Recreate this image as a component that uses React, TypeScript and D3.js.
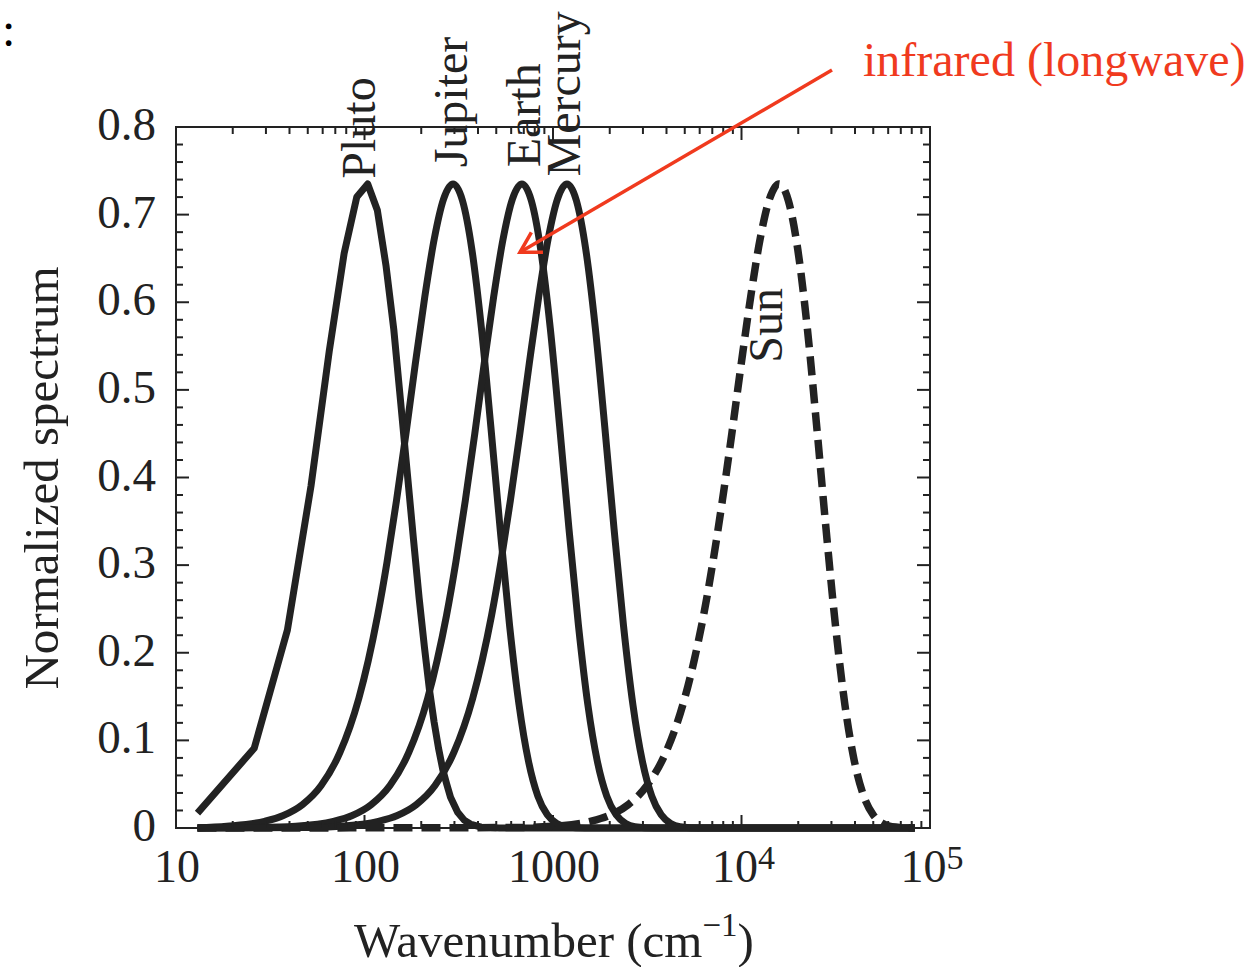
import React from 'react';
import * as d3 from 'd3';

// ---------- data ----------
const PLUTO_NU = [13, 26, 39, 52, 65, 78, 91, 104, 117, 130, 143, 156, 169, 182, 195, 208, 221, 234, 247, 260, 273, 286, 312, 338, 364, 416, 520, 83000];
const PLUTO_VAL = [0.017, 0.091, 0.226, 0.39, 0.544, 0.656, 0.72, 0.735, 0.705, 0.642, 0.569, 0.483, 0.403, 0.329, 0.262, 0.206, 0.158, 0.121, 0.091, 0.067, 0.05, 0.035, 0.018, 0.009, 0.0045, 0.001, 0, 0];

const JUPITER_NU = [13, 18.6, 29.5, 37.1, 46.8, 58.9, 74.1, 93.3, 104.7, 117.4, 131.8, 147.9, 165.9, 186.1, 208.8, 234.3, 262.9, 295, 331, 371.4, 416.8, 467.6, 524.5, 588.5, 660.5, 741, 831, 933, 1047, 1174, 1479, 83000];
const JUPITER_VAL = [0, 0.002, 0.0076, 0.0143, 0.0266, 0.0485, 0.0862, 0.148, 0.191, 0.2425, 0.304, 0.374, 0.45, 0.53, 0.606, 0.672, 0.718, 0.735, 0.716, 0.66, 0.571, 0.459, 0.341, 0.231, 0.1405, 0.0763, 0.0364, 0.015, 0.0052, 0.0015, 0, 0];

const EARTH_NU = [13, 27.2, 43.2, 68.4, 86.1, 108.4, 136.5, 171.8, 216.3, 242.7, 272.3, 305.5, 342.8, 384.6, 431.6, 484.2, 543.3, 609.6, 684, 767.5, 861.1, 966.5, 1084, 1216, 1365, 1531, 1718, 1928, 2163, 2427, 2723, 3428, 83000];
const EARTH_VAL = [0, 0.0005, 0.002, 0.0076, 0.0143, 0.0266, 0.0485, 0.0862, 0.148, 0.191, 0.2425, 0.304, 0.374, 0.45, 0.53, 0.606, 0.672, 0.718, 0.735, 0.716, 0.66, 0.571, 0.459, 0.341, 0.231, 0.1405, 0.0763, 0.0364, 0.015, 0.0052, 0.0015, 0, 0];

const MERCURY_NU = [13, 47.2, 74.8, 118.6, 149.3, 188, 236.6, 297.9, 375, 420.8, 472.1, 529.8, 594.4, 666.9, 748.4, 839.6, 942, 1057, 1186, 1331, 1493, 1676, 1880, 2109, 2366, 2655, 2979, 3342, 3750, 4208, 4721, 5944, 83000];
const MERCURY_VAL = [0, 0.0005, 0.002, 0.0076, 0.0143, 0.0266, 0.0485, 0.0862, 0.148, 0.191, 0.2425, 0.304, 0.374, 0.45, 0.53, 0.606, 0.672, 0.718, 0.735, 0.716, 0.66, 0.571, 0.459, 0.341, 0.231, 0.1405, 0.0763, 0.0364, 0.015, 0.0052, 0.0015, 0, 0];

const SUN_NU = [13, 629, 997, 1580, 1989, 2504, 3152, 3969, 4996, 5606, 6290, 7058, 7919, 8884, 9970, 11185, 12550, 14083, 15800, 17728, 19892, 22325, 25043, 28092, 31521, 35376, 39690, 44524, 49960, 56058, 62900, 83000];
const SUN_VAL = [0, 0.0005, 0.002, 0.0076, 0.0143, 0.0266, 0.0485, 0.0862, 0.148, 0.191, 0.2425, 0.304, 0.374, 0.45, 0.53, 0.606, 0.672, 0.718, 0.735, 0.716, 0.66, 0.571, 0.459, 0.341, 0.231, 0.1405, 0.0763, 0.0364, 0.015, 0.0052, 0.0015, 0];

const CURVE_NAMES = ['Pluto', 'Jupiter', 'Earth', 'Mercury', 'Sun'];
const LABEL_NU = [114, 350, 853, 1390, 16400];
const LABEL_VAL = [0.741, 0.754, 0.754, 0.7435, 0.531];

const X_MAJOR = [10, 100, 1000, 10000, 100000];
const X_LABEL_BASE = ['10', '100', '1000', '10', '10'];
const X_LABEL_EXP = ['', '', '', '4', '5'];
const Y_MAJOR = [0, 0.1, 0.2, 0.3, 0.4, 0.5, 0.6, 0.7, 0.8];
const Y_LABELS = ['0', '0.1', '0.2', '0.3', '0.4', '0.5', '0.6', '0.7', '0.8'];

const ANNOTATION_TEXT = 'infrared (longwave)';
const ARROW_FROM = [30200, 0.865];
const ARROW_TO = [668, 0.657];

// ---------- layout ----------
const W = 1254, H = 967;
const L = 176, R = 930, T = 127, B = 828;
const FONT = "'Liberation Serif', 'Times New Roman', Times, serif";
const INK = '#222';
const RED = '#f03a1e';

export default function App() {
  const x = d3.scaleLog().domain([10, 1e5]).range([L, R]);
  const y = d3.scaleLinear().domain([0, 0.8]).range([B, T]);

  const series = [
    { nu: PLUTO_NU, val: PLUTO_VAL, dashed: false, curve: d3.curveLinear },
    { nu: JUPITER_NU, val: JUPITER_VAL, dashed: false, curve: d3.curveMonotoneX },
    { nu: EARTH_NU, val: EARTH_VAL, dashed: false, curve: d3.curveMonotoneX },
    { nu: MERCURY_NU, val: MERCURY_VAL, dashed: false, curve: d3.curveMonotoneX },
    { nu: SUN_NU, val: SUN_VAL, dashed: true, curve: d3.curveMonotoneX },
  ];

  const xMinor: number[] = [];
  [10, 100, 1000, 10000].forEach((k) => {
    for (let m = 2; m <= 9; m++) xMinor.push(k * m);
  });
  const yMinor: number[] = [];
  for (let i = 1; i < 40; i++) if (i % 5 !== 0) yMinor.push(i * 0.02);

  const MAJ = 13, MIN = 7;

  // arrow geometry
  const ax1 = x(ARROW_FROM[0]), ay1 = y(ARROW_FROM[1]);
  const ax2 = x(ARROW_TO[0]), ay2 = y(ARROW_TO[1]);
  const ang = Math.atan2(ay1 - ay2, ax1 - ax2);
  const wl = 23, spread = (30 * Math.PI) / 180;
  const w1 = [ax2 + wl * Math.cos(ang - spread), ay2 + wl * Math.sin(ang - spread)];
  const w2 = [ax2 + wl * Math.cos(ang + spread), ay2 + wl * Math.sin(ang + spread)];

  return (
    <svg width={W} height={H} style={{ position: 'absolute', left: 0, top: 0, background: '#fff' }} fontFamily={FONT}>
      <rect x={0} y={0} width={W} height={H} fill="#fff" />
      <text x={2} y={46} fontSize={48} fill="#000">:</text>

      {/* curves */}
      {series.map((s, i) => {
        const pts: [number, number][] = s.nu.map((n, j) => [n, s.val[j]]);
        const line = d3.line<[number, number]>().x((d) => x(d[0])).y((d) => y(d[1])).curve(s.curve);
        return (
          <path key={i} d={line(pts) || ''} fill="none" stroke={INK} strokeWidth={s.dashed ? 7.5 : 7}
            strokeDasharray={s.dashed ? '19 9' : undefined} strokeLinejoin="round" strokeLinecap="butt" />
        );
      })}

      {/* frame */}
      <rect x={L} y={T} width={R - L} height={B - T} fill="none" stroke={INK} strokeWidth={2} />

      {/* x ticks */}
      {X_MAJOR.map((v, i) => (
        <g key={'xm' + i}>
          <line x1={x(v)} x2={x(v)} y1={B} y2={B - MAJ} stroke={INK} strokeWidth={2} />
          <line x1={x(v)} x2={x(v)} y1={T} y2={T + MAJ} stroke={INK} strokeWidth={2} />
        </g>
      ))}
      {xMinor.map((v, i) => (
        <g key={'xn' + i}>
          <line x1={x(v)} x2={x(v)} y1={B} y2={B - MIN} stroke={INK} strokeWidth={2} />
          <line x1={x(v)} x2={x(v)} y1={T} y2={T + MIN} stroke={INK} strokeWidth={2} />
        </g>
      ))}
      {/* y ticks */}
      {Y_MAJOR.map((v, i) => (
        <g key={'ym' + i}>
          <line x1={L} x2={L + MAJ} y1={y(v)} y2={y(v)} stroke={INK} strokeWidth={2} />
          <line x1={R} x2={R - MAJ} y1={y(v)} y2={y(v)} stroke={INK} strokeWidth={2} />
        </g>
      ))}
      {yMinor.map((v, i) => (
        <g key={'yn' + i}>
          <line x1={L} x2={L + MIN} y1={y(v)} y2={y(v)} stroke={INK} strokeWidth={2} />
          <line x1={R} x2={R - MIN} y1={y(v)} y2={y(v)} stroke={INK} strokeWidth={2} />
        </g>
      ))}

      {/* tick labels */}
      {Y_MAJOR.map((v, i) => (
        <text key={'yl' + i} x={156} y={y(v) + 13} fontSize={47} textAnchor="end" fill={INK}>{Y_LABELS[i]}</text>
      ))}
      {X_MAJOR.map((v, i) => (
        <text key={'xl' + i} x={x(v) + (X_LABEL_EXP[i] ? 2 : 1)} y={882} fontSize={46} textAnchor="middle" fill={INK}>
          <tspan>{X_LABEL_BASE[i]}</tspan>
          {X_LABEL_EXP[i] ? <tspan dy={-13} fontSize={34}>{X_LABEL_EXP[i]}</tspan> : null}
        </text>
      ))}

      {/* axis titles */}
      <text x={554} y={957} fontSize={49} textAnchor="middle" fill={INK}>
        <tspan>Wavenumber (cm</tspan>
        <tspan dy={-21} fontSize={33}>−1</tspan>
        <tspan dy={21}>)</tspan>
      </text>
      <text transform={`translate(58,478) rotate(-90)`} fontSize={49} textAnchor="middle" fill={INK}>Normalized spectrum</text>

      {/* curve labels */}
      {CURVE_NAMES.map((n, i) => (
        <text key={'cl' + i} transform={`translate(${x(LABEL_NU[i])},${y(LABEL_VAL[i])}) rotate(-90)`} fontSize={48} fill={INK}>{n}</text>
      ))}

      {/* annotation */}
      <text x={863} y={76} fontSize={48} fill={RED}>{ANNOTATION_TEXT}</text>
      <line x1={ax1} y1={ay1} x2={ax2} y2={ay2} stroke={RED} strokeWidth={3.5} />
      <polyline points={`${w1[0]},${w1[1]} ${ax2},${ay2} ${w2[0]},${w2[1]}`} fill="none" stroke={RED} strokeWidth={3.5} strokeLinejoin="miter" />
    </svg>
  );
}
